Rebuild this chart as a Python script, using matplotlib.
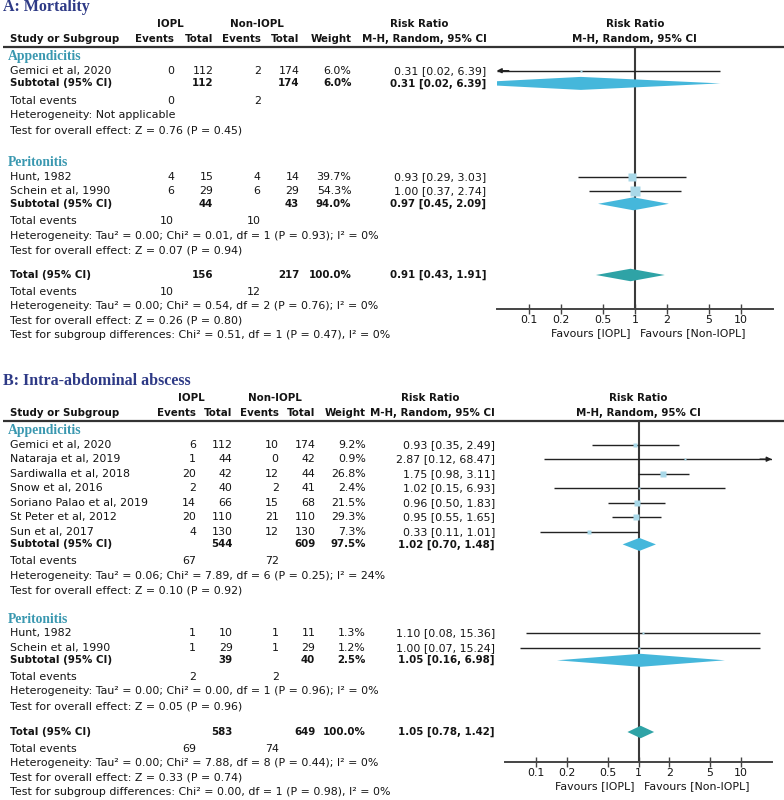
import numpy as np
import matplotlib
matplotlib.use("Agg")
import matplotlib.pyplot as plt
from matplotlib.patches import Polygon
from matplotlib.ticker import NullLocator

W, H = 784, 800

# ---------------- A: Mortality ----------------
mort_app_study = ["Gemici et al, 2020"]
mort_app_ev1 = [0]
mort_app_n1 = [112]
mort_app_ev2 = [2]
mort_app_n2 = [174]
mort_app_wt = [6.0]
mort_app_rr = [0.31]
mort_app_lo = [0.02]
mort_app_hi = [6.39]
mort_app_sub = [0.31, 0.02, 6.39]
mort_app_sub_n = [112, 174]
mort_app_sub_wt = 6.0
mort_app_events = [0, 2]
mort_app_het = "Heterogeneity: Not applicable"
mort_app_z = "Test for overall effect: Z = 0.76 (P = 0.45)"

mort_per_study = ["Hunt, 1982", "Schein et al, 1990"]
mort_per_ev1 = [4, 6]
mort_per_n1 = [15, 29]
mort_per_ev2 = [4, 6]
mort_per_n2 = [14, 29]
mort_per_wt = [39.7, 54.3]
mort_per_rr = [0.93, 1.00]
mort_per_lo = [0.29, 0.37]
mort_per_hi = [3.03, 2.74]
mort_per_sub = [0.97, 0.45, 2.09]
mort_per_sub_n = [44, 43]
mort_per_sub_wt = 94.0
mort_per_events = [10, 10]
mort_per_het = "Heterogeneity: Tau² = 0.00; Chi² = 0.01, df = 1 (P = 0.93); I² = 0%"
mort_per_z = "Test for overall effect: Z = 0.07 (P = 0.94)"

mort_tot = [0.91, 0.43, 1.91]
mort_tot_n = [156, 217]
mort_tot_events = [10, 12]
mort_tot_het = "Heterogeneity: Tau² = 0.00; Chi² = 0.54, df = 2 (P = 0.76); I² = 0%"
mort_tot_z = "Test for overall effect: Z = 0.26 (P = 0.80)"
mort_subgroup = "Test for subgroup differences: Chi² = 0.51, df = 1 (P = 0.47), I² = 0%"

# ---------------- B: Intra-abdominal abscess ----------------
abs_app_study = ["Gemici et al, 2020", "Nataraja et al, 2019", "Sardiwalla et al, 2018",
                 "Snow et al, 2016", "Soriano Palao et al, 2019", "St Peter et al, 2012",
                 "Sun et al, 2017"]
abs_app_ev1 = [6, 1, 20, 2, 14, 20, 4]
abs_app_n1 = [112, 44, 42, 40, 66, 110, 130]
abs_app_ev2 = [10, 0, 12, 2, 15, 21, 12]
abs_app_n2 = [174, 42, 44, 41, 68, 110, 130]
abs_app_wt = [9.2, 0.9, 26.8, 2.4, 21.5, 29.3, 7.3]
abs_app_rr = [0.93, 2.87, 1.75, 1.02, 0.96, 0.95, 0.33]
abs_app_lo = [0.35, 0.12, 0.98, 0.15, 0.50, 0.55, 0.11]
abs_app_hi = [2.49, 68.47, 3.11, 6.93, 1.83, 1.65, 1.01]
abs_app_sub = [1.02, 0.70, 1.48]
abs_app_sub_n = [544, 609]
abs_app_sub_wt = 97.5
abs_app_events = [67, 72]
abs_app_het = "Heterogeneity: Tau² = 0.06; Chi² = 7.89, df = 6 (P = 0.25); I² = 24%"
abs_app_z = "Test for overall effect: Z = 0.10 (P = 0.92)"

abs_per_study = ["Hunt, 1982", "Schein et al, 1990"]
abs_per_ev1 = [1, 1]
abs_per_n1 = [10, 29]
abs_per_ev2 = [1, 1]
abs_per_n2 = [11, 29]
abs_per_wt = [1.3, 1.2]
abs_per_rr = [1.10, 1.00]
abs_per_lo = [0.08, 0.07]
abs_per_hi = [15.36, 15.24]
abs_per_sub = [1.05, 0.16, 6.98]
abs_per_sub_n = [39, 40]
abs_per_sub_wt = 2.5
abs_per_events = [2, 2]
abs_per_het = "Heterogeneity: Tau² = 0.00; Chi² = 0.00, df = 1 (P = 0.96); I² = 0%"
abs_per_z = "Test for overall effect: Z = 0.05 (P = 0.96)"

abs_tot = [1.05, 0.78, 1.42]
abs_tot_n = [583, 649]
abs_tot_events = [69, 74]
abs_tot_het = "Heterogeneity: Tau² = 0.00; Chi² = 7.88, df = 8 (P = 0.44); I² = 0%"
abs_tot_z = "Test for overall effect: Z = 0.33 (P = 0.74)"
abs_subgroup = "Test for subgroup differences: Chi² = 0.00, df = 1 (P = 0.98), I² = 0%"

tick_vals = [0.1, 0.2, 0.5, 1, 2, 5, 10]
tick_labs = ["0.1", "0.2", "0.5", "1", "2", "5", "10"]

NAVY = "#2E3A86"
TEAL_TXT = "#3A98B0"
SQ = "#A8D8E8"
SUBD = "#45B7DB"
TOTD = "#2FA3A6"
INK = "#141414"
LINE = "#222222"
XMIN, XMAX = 0.05, 20

plt.rcParams["font.family"] = "DejaVu Sans"
FS = 7.9      # regular text
FSB = 7.4     # bold text (DejaVu bold runs wider)


def group(name, study, ev1, n1, ev2, n2, wt, rr, lo, hi, sub, sub_n, sub_wt, events, het, z):
    return dict(name=name, study=study, ev1=ev1, n1=n1, ev2=ev2, n2=n2, wt=wt, rr=rr,
                lo=lo, hi=hi, sub=sub, sub_n=sub_n, sub_wt=sub_wt, events=events, het=het, z=z)


def ci_txt(r, l, h):
    return f"{r:.2f} [{l:.2f}, {h:.2f}]"


fig = plt.figure(figsize=(W / 100, H / 100), dpi=100)
bg = fig.add_axes([0, 0, 1, 1])
bg.set_xlim(0, W)
bg.set_ylim(H, 0)
bg.axis("off")


def txt(x, y, s, ha="left", bold=False, **kw):
    bg.text(x, y, s, ha=ha, va="center", fontsize=FSB if bold else FS,
            fontweight="bold" if bold else "normal", color=kw.pop("color", INK), **kw)


def diamond(ax, y, r, l, h, color, hgt=13):
    ax.add_patch(Polygon([(l, y), (r, y - hgt / 2), (h, y), (r, y + hgt / 2)],
                         closed=True, fc=color, ec="none", zorder=3))


def draw_panel(title, groups, tot, tot_n, tot_events, tot_het, tot_z, subgroup, L):
    ly, axy = L["line"], L["axis"]
    c = L["cols"]
    bg.text(3, ly - 40, title, family="Liberation Serif", fontweight="bold",
            fontsize=11.5, color=NAVY, va="center")
    r1, r2 = ly - 22.6, ly - 7.8
    txt(L["iopl"], r1, "IOPL", ha="center", bold=True)
    txt(L["ctrl"], r1, "Non-IOPL", ha="center", bold=True)
    txt(L["rrhead"], r1, "Risk Ratio", ha="center", bold=True)
    txt(10, r2, "Study or Subgroup", bold=True)
    for x, s in zip(c[:5], ["Events", "Total", "Events", "Total", "Weight"]):
        txt(x, r2, s, ha="right", bold=True)
    txt(c[5], r2, "M-H, Random, 95% CI", ha="right", bold=True)
    bg.plot([3, W], [ly, ly], color="#333333", lw=1.6, solid_capstyle="butt")

    fx = fig.add_axes([L["x0"] / W, 1 - axy / H, (L["x1"] - L["x0"]) / W, (axy - ly) / H])
    fx.patch.set_alpha(0)
    fx.set_xscale("log")
    fx.set_xlim(XMIN, XMAX)
    fx.set_ylim(axy, ly)
    for s in ["left", "right", "top"]:
        fx.spines[s].set_visible(False)
    fx.spines["bottom"].set_linewidth(1.4)
    fx.spines["bottom"].set_color("#444444")
    fx.set_yticks([])
    fx.set_xticks(tick_vals)
    fx.set_xticklabels(tick_labs)
    fx.xaxis.set_minor_locator(NullLocator())
    fx.tick_params(axis="x", direction="inout", length=7, width=1, color="#444444",
                   pad=0.5, labelsize=FS, labelcolor=INK)
    fx.axvline(1, color="#3a3a3a", lw=1.5, zorder=2)
    fx.text(1, r1, "Risk Ratio", ha="center", va="center", fontsize=FSB, fontweight="bold",
            color=INK, clip_on=False)
    fx.text(1, r2, "M-H, Random, 95% CI", ha="center", va="center", fontsize=FSB,
            fontweight="bold", color=INK, clip_on=False)
    fx.annotate("Favours [IOPL]", xy=(1, axy + 24), xytext=(-3, 0), textcoords="offset points",
                ha="right", va="center", fontsize=FS, color=INK, annotation_clip=False)
    fx.annotate("Favours [Non-IOPL]", xy=(1, axy + 24), xytext=(4, 0), textcoords="offset points",
                ha="left", va="center", fontsize=FS, color=INK, annotation_clip=False)

    y = ly + 10
    for gi, g in enumerate(groups):
        if gi > 0:
            y += L["group_gap"]
        bg.text(8, y, g["name"], family="Liberation Serif", fontweight="bold", fontsize=9.8,
                color=TEAL_TXT, va="center")
        for i, name in enumerate(g["study"]):
            y += 14 if i == 0 else 14.5
            txt(10, y, name)
            vals = [g["ev1"][i], g["n1"][i], g["ev2"][i], g["n2"][i]]
            for x, v in zip(c[:4], vals):
                txt(x, y, str(v), ha="right")
            txt(c[4], y, f"{g['wt'][i]:.1f}%", ha="right")
            r, l, h = g["rr"][i], g["lo"][i], g["hi"][i]
            txt(c[5], y, ci_txt(r, l, h), ha="right")
            a, b = max(l, XMIN), min(h, XMAX)
            fx.plot([a, b], [y, y], color=LINE, lw=1.0, solid_capstyle="butt", zorder=3)
            if l < XMIN:
                fx.annotate("", xy=(XMIN, y), xytext=(XMIN * 1.3, y),
                            arrowprops=dict(arrowstyle="-|>", color=LINE, lw=1,
                                            mutation_scale=7, shrinkA=0, shrinkB=0), zorder=3)
            if h > XMAX:
                fx.annotate("", xy=(XMAX, y), xytext=(XMAX / 1.3, y),
                            arrowprops=dict(arrowstyle="-|>", color=LINE, lw=1,
                                            mutation_scale=7, shrinkA=0, shrinkB=0), zorder=3)
            side = 2 + 15 * g["wt"][i] / 100
            fx.plot([r], [y], marker="s", ms=side * 0.72, color=SQ, mec="none", zorder=4)
        y += 12.7
        txt(10, y, "Subtotal (95% CI)", bold=True)
        txt(c[1], y, str(g["sub_n"][0]), ha="right", bold=True)
        txt(c[3], y, str(g["sub_n"][1]), ha="right", bold=True)
        txt(c[4], y, f"{g['sub_wt']:.1f}%", ha="right", bold=True)
        txt(c[5], y, ci_txt(*g["sub"]), ha="right", bold=True)
        diamond(fx, y, g["sub"][0], g["sub"][1], g["sub"][2], SUBD)
        y += L["te_step"]
        txt(10, y, "Total events")
        txt(c[0], y, str(g["events"][0]), ha="right")
        txt(c[2], y, str(g["events"][1]), ha="right")
        y += 14.6
        txt(10, y, g["het"])
        y += 14.6
        txt(10, y, g["z"])

    y += L["total_gap"]
    txt(10, y, "Total (95% CI)", bold=True)
    txt(c[1], y, str(tot_n[0]), ha="right", bold=True)
    txt(c[3], y, str(tot_n[1]), ha="right", bold=True)
    txt(c[4], y, "100.0%", ha="right", bold=True)
    txt(c[5], y, ci_txt(*tot), ha="right", bold=True)
    diamond(fx, y, tot[0], tot[1], tot[2], TOTD, hgt=12.5)
    y += 16.6
    txt(10, y, "Total events")
    txt(c[0], y, str(tot_events[0]), ha="right")
    txt(c[2], y, str(tot_events[1]), ha="right")
    for s in [tot_het, tot_z, subgroup]:
        y += 14.6
        txt(10, y, s)


mort_groups = [
    group("Appendicitis", mort_app_study, mort_app_ev1, mort_app_n1, mort_app_ev2, mort_app_n2,
          mort_app_wt, mort_app_rr, mort_app_lo, mort_app_hi, mort_app_sub, mort_app_sub_n,
          mort_app_sub_wt, mort_app_events, mort_app_het, mort_app_z),
    group("Peritonitis", mort_per_study, mort_per_ev1, mort_per_n1, mort_per_ev2, mort_per_n2,
          mort_per_wt, mort_per_rr, mort_per_lo, mort_per_hi, mort_per_sub, mort_per_sub_n,
          mort_per_sub_wt, mort_per_events, mort_per_het, mort_per_z),
]
abs_groups = [
    group("Appendicitis", abs_app_study, abs_app_ev1, abs_app_n1, abs_app_ev2, abs_app_n2,
          abs_app_wt, abs_app_rr, abs_app_lo, abs_app_hi, abs_app_sub, abs_app_sub_n,
          abs_app_sub_wt, abs_app_events, abs_app_het, abs_app_z),
    group("Peritonitis", abs_per_study, abs_per_ev1, abs_per_n1, abs_per_ev2, abs_per_n2,
          abs_per_wt, abs_per_rr, abs_per_lo, abs_per_hi, abs_per_sub, abs_per_sub_n,
          abs_per_sub_wt, abs_per_events, abs_per_het, abs_per_z),
]

layout_a = dict(line=46.7, axis=309.3, x0=496.7, x1=773, iopl=170, ctrl=257, rrhead=419,
                cols=[174, 213.3, 260.7, 299.3, 351.5, 486.5],
                te_step=17.5, group_gap=32.5, total_gap=24.5)
layout_b = dict(line=420.7, axis=762.3, x0=505.3, x1=771.7, iopl=191.7, ctrl=274.5, rrhead=430.5,
                cols=[196, 232.7, 278.7, 315.3, 366, 495],
                te_step=16.5, group_gap=29, total_gap=26)

draw_panel("A: Mortality", mort_groups, mort_tot, mort_tot_n, mort_tot_events,
           mort_tot_het, mort_tot_z, mort_subgroup, layout_a)
draw_panel("B: Intra-abdominal abscess", abs_groups, abs_tot, abs_tot_n, abs_tot_events,
           abs_tot_het, abs_tot_z, abs_subgroup, layout_b)

fig.savefig("out.png", dpi=100)
